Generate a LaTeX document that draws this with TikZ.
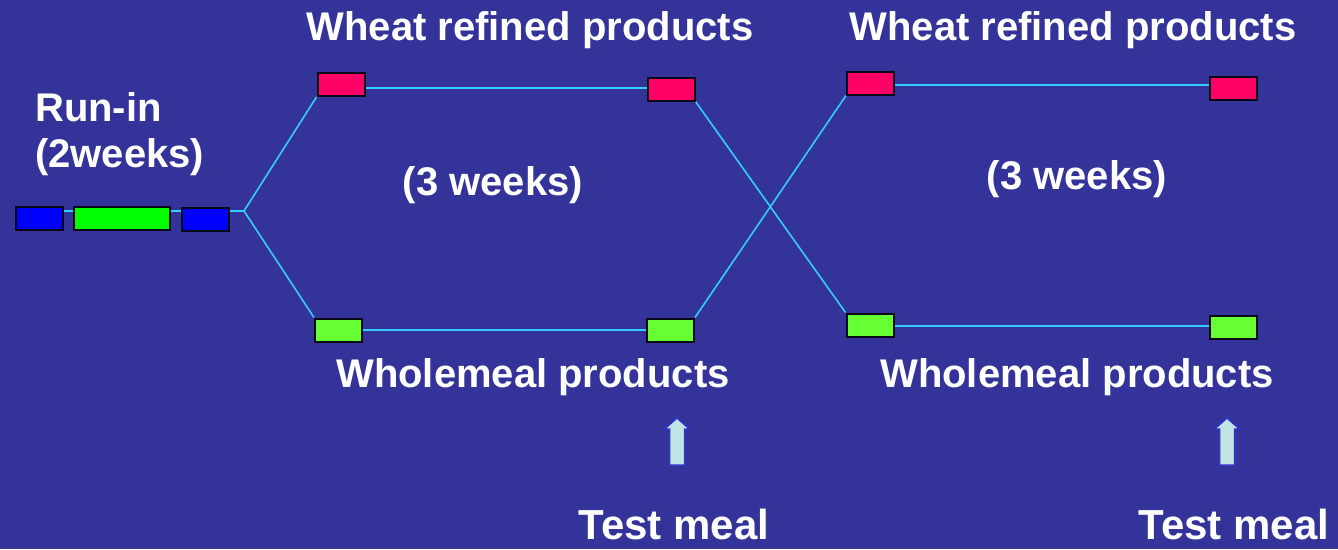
\documentclass[tikz,border=0pt]{standalone}
\usepackage{fontspec}
\setmainfont{Liberation Sans}
\definecolor{bgblue}{RGB}{51,51,153}
\definecolor{lineblue}{RGB}{51,204,255}
\definecolor{redbox}{RGB}{255,0,102}
\definecolor{greenbox}{RGB}{102,255,51}
\definecolor{brightgreen}{RGB}{0,255,0}
\definecolor{bluebox}{RGB}{0,0,255}
\definecolor{arrowfill}{RGB}{192,228,228}
\definecolor{arrowedge}{RGB}{51,51,204}
\begin{document}
\begin{tikzpicture}[x=1pt,y=-1pt,
  box/.style={draw=black!85!bgblue,line width=2pt,minimum width=47pt,minimum height=23pt,inner sep=0pt},
  conn/.style={draw=lineblue,line width=1.6pt},
  lbl/.style={text=white,font=\bfseries\fontsize{40}{44}\selectfont,inner sep=0pt},
  uparrow/.style={draw=arrowedge,fill=arrowfill,line width=1.5pt,line join=miter}]
\fill[bgblue] (0,0) rectangle (1338,549);
\useasboundingbox (0,0) rectangle (1338,549);
% run-in boxes
\node[box,fill=bluebox] (b1) at (39,218.5) {};
\node[box,fill=brightgreen,minimum width=96pt] (g0) at (122,218) {};
\node[box,fill=bluebox] (b2) at (205,219.5) {};
\coordinate (split) at (244,211);
% treatment boxes (positions)
\path (341,84.5) coordinate (r1c) (671,89) coordinate (r2c) (338.5,330) coordinate (w1c)
      (670.5,330) coordinate (w2c) (870.5,83) coordinate (r3c) (1233.5,88) coordinate (r4c)
      (870,325) coordinate (w3c) (1233.5,327) coordinate (w4c);
\path (r1c) node[box,draw=none] (r1) {} (r2c) node[box,draw=none] (r2) {}
      (w1c) node[box,draw=none] (w1) {} (w2c) node[box,draw=none] (w2) {}
      (r3c) node[box,draw=none] (r3) {} (r4c) node[box,draw=none] (r4) {}
      (w3c) node[box,draw=none] (w3) {} (w4c) node[box,draw=none] (w4) {};
% connectors
\path[conn] (b1.east |- 0,211) -- (g0.west |- 0,211);
\path[conn] (g0.east |- 0,211) -- (b2.west |- 0,211);
\path[conn] (b2.east |- 0,211) -- (split);
\path[conn] (split) -- (r1.south west);
\path[conn] (split) -- (w1.north west);
\path[conn] (r1.east |- 0,88) -- (r2.west |- 0,88);
\path[conn] (w1.east) -- (w2.west);
\path[conn] (r2.south east) -- (w3.north west);
\path[conn] (w2.north east) -- (r3.south west);
\path[conn] (r3.east |- 0,85) -- (r4.west |- 0,85);
\path[conn] (w3.east |- 0,326) -- (w4.west |- 0,326);
% boxes on top
\node[box,fill=redbox] at (r1c) {};
\node[box,fill=redbox] at (r2c) {};
\node[box,fill=redbox] at (r3c) {};
\node[box,fill=redbox] at (r4c) {};
\node[box,fill=greenbox] at (w1c) {};
\node[box,fill=greenbox] at (w2c) {};
\node[box,fill=greenbox] at (w3c) {};
\node[box,fill=greenbox] at (w4c) {};
% labels
\node[lbl] (t1) at (530,30) {Wheat refined products};
\node[lbl] (t2) at (1073,30) {Wheat refined products};
\node[lbl,anchor=west] (t3) at (35,107) {Run-in};
\node[lbl,anchor=west] (t4) at (35,157) {(2weeks)};
\node[lbl] (t5) at (493,185) {(3 weeks)};
\node[lbl] (t6) at (1077,179) {(3 weeks)};
\node[lbl] (t7) at (533,377) {Wholemeal products};
\node[lbl] (t8) at (1077,377) {Wholemeal products};
\node[lbl,anchor=base,text depth=0pt,font=\bfseries\fontsize{42}{46}\selectfont] (t9) at (674,539) {Test meal};
\node[lbl,anchor=base,text depth=0pt,font=\bfseries\fontsize{42}{46}\selectfont] (t10) at (1234,539) {Test meal};
% arrows
\foreach \ax in {677,1227}{
  \draw[uparrow] (\ax,418) -- (\ax+12.5,429) -- (\ax+7.5,429) -- (\ax+7.5,465)
     -- (\ax-7.5,465) -- (\ax-7.5,429) -- (\ax-12.5,429) -- cycle;
}
\end{tikzpicture}
\end{document}
